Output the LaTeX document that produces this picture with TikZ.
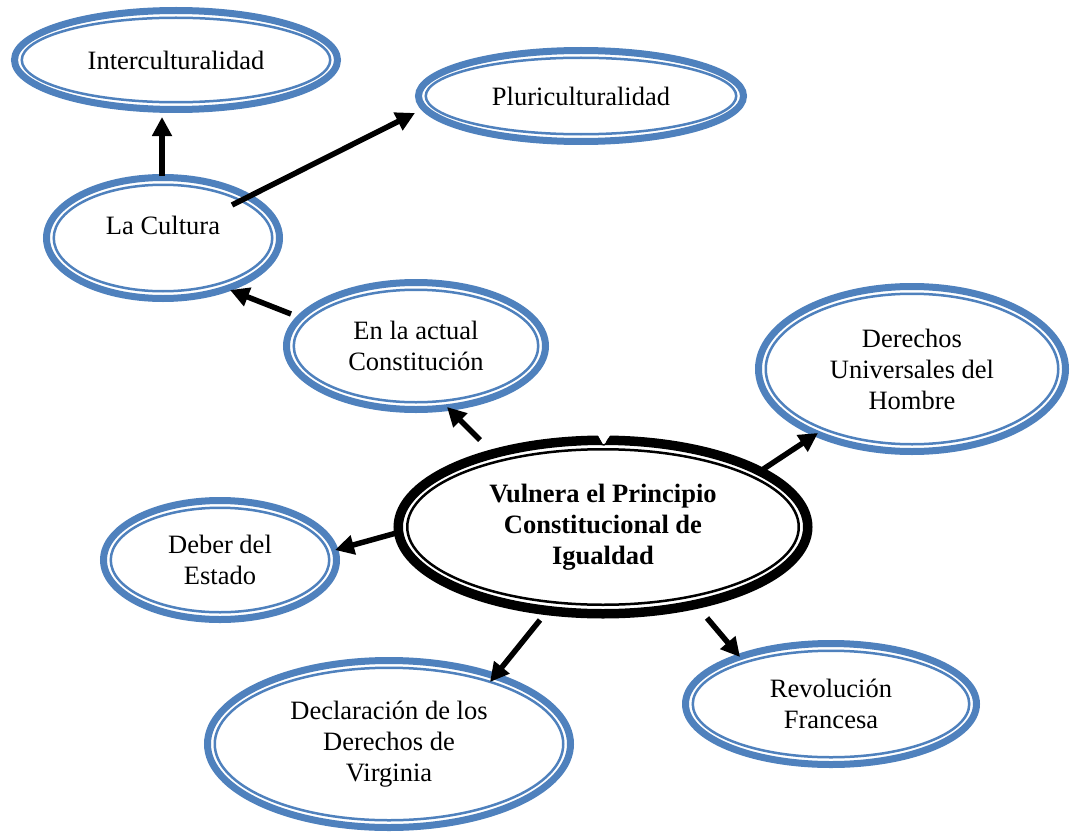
\documentclass[tikz,border=0pt]{standalone}
\usepackage{fontspec}
\setmainfont{Liberation Serif}
\usetikzlibrary{shapes.geometric,arrows.meta,calc}
\definecolor{accblue}{HTML}{4F81BD}
\tikzset{
  txt/.style={font=\fontsize{26.5}{31}\selectfont, align=center, text=black},
  bub/.style={ellipse, draw=accblue, line width=7pt, inner sep=0pt, txt},
  cenbub/.style={ellipse, draw=black, line width=9.5pt, inner sep=0pt, txt, font=\fontsize{26.5}{31}\selectfont\bfseries},
  arr/.style={line width=5.5pt, draw=black, -{Triangle[length=19pt,width=19pt]}},
}
\newcommand{\mkbub}[6]{%
  \node[bub, minimum width={2*#4pt-7pt}, minimum height={2*#5pt-7pt}] (#1) at (#2,#3) {#6};
  \draw[accblue, line width=2.5pt] (#1.center) ellipse [x radius={#4pt-10.75pt}, y radius={#5pt-10.75pt}];
}
\begin{document}
\begin{tikzpicture}[x=1pt,y=-1pt]
\fill[white] (0,0) rectangle (1070,832);
\useasboundingbox (0,0) rectangle (1070,832);

\mkbub{inter}{176}{60}{165}{53}{Interculturalidad}
\mkbub{pluri}{581}{96}{166}{49}{Pluriculturalidad}
\mkbub{cult}{163}{238}{120}{64}{\raisebox{4pt}[0pt][0pt]{La Cultura}}
\mkbub{const}{416}{346}{133}{67}{En la actual\\Constitución}
\mkbub{der}{912}{369}{157}{86}{Derechos\\Universales del\\Hombre}
\mkbub{deber}{220}{560}{120}{63}{Deber del\\Estado}
\mkbub{decl}{389}{744}{185}{87}{Declaración de los\\Derechos de\\Virginia}
\mkbub{rev}{831}{704}{149}{64}{Revolución\\Francesa}

\node[cenbub, minimum width=409.5pt, minimum height=173.5pt] (cen) at (603,527) {Vulnera el Principio\\Constitucional de\\Igualdad};
\draw[black, line width=2.5pt] (cen.center) ellipse [x radius=195.75pt, y radius=77.75pt];
% notch at the top of the central ring
\fill[white] (595,430) -- (613,430) -- (604,446) -- cycle;
\draw[black, line width=1.3pt] (596,437) .. controls (601,439) and (600,446) .. (604,445) .. controls (608,444) and (606,438) .. (612,437);

\draw[arr] ($(cult.center)+(-1,-62)$) -- ($(inter.center)+(-14,57)$);
\draw[arr] ($(cult.center)+(69,-33)$) -- ($(pluri.center)+(-166,17)$);
\draw[arr] ($(const.center)+(-125,-32)$) -- ($(cult.center)+(67,52)$);
\draw[arr] ($(cen.center)+(-123,-87)$) -- ($(const.center)+(31,61)$);
\draw[arr] ($(cen.center)+(159,-57)$) -- ($(der.center)+(-94,64)$);
\draw[arr] ($(cen.center)+(-203,5)$) -- ($(deber.center)+(115,-10)$);
\draw[arr] ($(cen.center)+(-63,93)$) -- ($(decl.center)+(101,-62)$);
\draw[arr] ($(cen.center)+(104,91)$) -- ($(rev.center)+(-91,-47)$);
\end{tikzpicture}
\end{document}
